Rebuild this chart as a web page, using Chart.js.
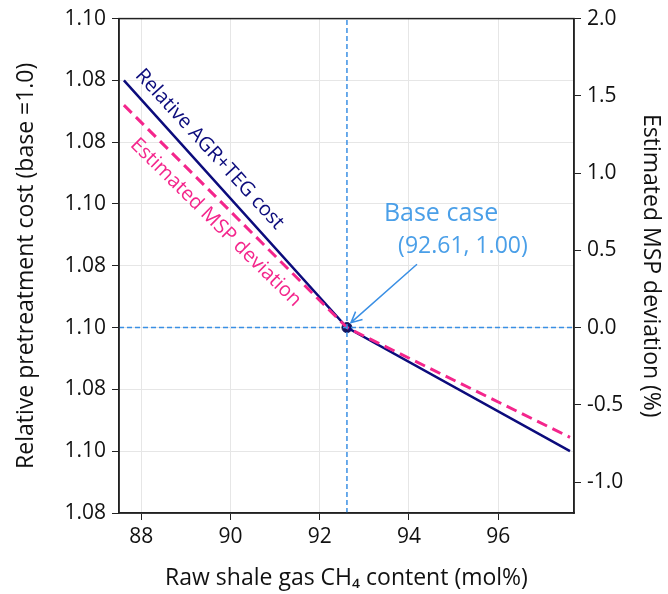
<!DOCTYPE html>
<html>
<head>
<meta charset="utf-8">
<script src="https://cdn.jsdelivr.net/npm/chart.js@4.4.1/dist/chart.umd.min.js"></script>
<style>
  html, body { margin: 0; padding: 0; background: #fff; }
  #chart { display: block; }
</style>
</head>
<body>
<canvas id="chart" width="668" height="594"></canvas>
<script>
// raw shale gas CH4 content (mol%) for the three evaluated cases
const ch4Content = [87.61, 92.61, 97.61]
// relative AGR+TEG cost (left axis)
const agrTegCost = [1.08, 1.00, 0.96]
// estimated MSP deviation in % (right axis)
const mspDeviation = [1.44, 0.00, -0.71]
const baseCase = { x: 92.61, y: 1.00 }

const xTicks = [88, 90, 92, 94, 96]
const leftTicks = [0.94, 0.96, 0.98, 1.00, 1.02, 1.04, 1.06, 1.08, 1.10]
// labels as printed on the original figure (bottom to top)
const leftTickLabels = ['1.08', '1.10', '1.08', '1.10', '1.08', '1.10', '1.08', '1.08', '1.10']
const rightTicks = [-1.0, -0.5, 0.0, 0.5, 1.0, 1.5, 2.0]

const navy = '#0c0c7c'
const pink = '#f4268c'
const blue = '#3a8fe4'
const fontFamily = "'Open Sans', sans-serif"

Chart.defaults.font.family = fontFamily
Chart.defaults.color = '#111'

const toXY = (ys) => ch4Content.map((x, i) => ({ x: x, y: ys[i] }))

// text notes placed in data units
const notes = [
  { text: 'Relative AGR+TEG cost', x: 89.53, y: 1.0577, axis: 'y', angle: 47.5, color: navy, size: 20 },
  { text: 'Estimated MSP deviation', x: 89.67, y: 0.68, axis: 'y2', angle: 44.5, color: pink, size: 20 },
  { text: 'Base case', x: 94.72, y: 1.0367, axis: 'y', angle: 0, color: '#4a9fe8', size: 25 },
  { text: '(92.61, 1.00)', x: 95.21, y: 1.0262, axis: 'y', angle: 0, color: '#4a9fe8', size: 23 }
]
const arrow = { from: { x: 94.18, y: 1.0205 }, to: { x: 92.70, y: 1.0016 } }

const decorations = {
  id: 'decorations',
  afterDatasetsDraw(chart) {
    const { ctx, chartArea, scales } = chart
    ctx.save()
    // frame
    ctx.strokeStyle = '#222'
    ctx.lineWidth = 1.5
    ctx.strokeRect(chartArea.left, chartArea.top, chartArea.right - chartArea.left, chartArea.bottom - chartArea.top)

    // arrow
    const x1 = scales.x.getPixelForValue(arrow.from.x)
    const y1 = scales.y.getPixelForValue(arrow.from.y)
    const x2 = scales.x.getPixelForValue(arrow.to.x)
    const y2 = scales.y.getPixelForValue(arrow.to.y)
    ctx.strokeStyle = blue
    ctx.lineWidth = 1.5
    ctx.beginPath()
    ctx.moveTo(x1, y1)
    ctx.lineTo(x2, y2)
    const a = Math.atan2(y2 - y1, x2 - x1)
    const head = 12
    ctx.moveTo(x2 - head * Math.cos(a - 0.45), y2 - head * Math.sin(a - 0.45))
    ctx.lineTo(x2, y2)
    ctx.lineTo(x2 - head * Math.cos(a + 0.45), y2 - head * Math.sin(a + 0.45))
    ctx.stroke()

    // texts
    notes.forEach((n) => {
      const px = scales.x.getPixelForValue(n.x)
      const py = scales[n.axis].getPixelForValue(n.y)
      ctx.save()
      ctx.translate(px, py)
      ctx.rotate((n.angle * Math.PI) / 180)
      ctx.fillStyle = n.color
      ctx.font = n.size + 'px ' + fontFamily
      ctx.textAlign = 'center'
      ctx.textBaseline = 'middle'
      ctx.fillText(n.text, 0, 0)
      ctx.restore()
    })
    ctx.restore()
  }
}

const chart = new Chart(document.getElementById('chart'), {
  type: 'line',
  data: {
    datasets: [
      {
        label: 'crosshair-h',
        data: [{ x: 87.5, y: baseCase.y }, { x: 97.7, y: baseCase.y }],
        borderColor: blue,
        borderWidth: 1.5,
        borderDash: [5, 3],
        pointRadius: 0,
        yAxisID: 'y'
      },
      {
        label: 'crosshair-v',
        data: [{ x: baseCase.x, y: 0.94 }, { x: baseCase.x, y: 1.10 }],
        borderColor: blue,
        borderWidth: 1.5,
        borderDash: [5, 3],
        pointRadius: 0,
        yAxisID: 'y'
      },
      {
        label: 'Estimated MSP deviation',
        data: toXY(mspDeviation),
        borderColor: pink,
        borderWidth: 3,
        borderDash: [11, 6],
        pointRadius: 0,
        yAxisID: 'y2'
      },
      {
        label: 'Relative AGR+TEG cost',
        data: toXY(agrTegCost),
        borderColor: navy,
        borderWidth: 2.5,
        pointRadius: 0,
        yAxisID: 'y'
      },
      {
        label: 'Base case',
        data: [baseCase],
        borderColor: '#14145e',
        backgroundColor: '#14145e',
        showLine: false,
        pointRadius: 5,
        yAxisID: 'y'
      }
    ]
  },
  options: {
    responsive: false,
    animation: false,
    devicePixelRatio: 1,
    layout: { padding: { top: 18, left: 0, right: 0, bottom: 0 } },
    plugins: {
      legend: { display: false },
      tooltip: { enabled: false }
    },
    scales: {
      x: {
        type: 'linear',
        min: 87.5,
        max: 97.7,
        afterBuildTicks: (s) => { s.ticks = xTicks.map((v) => ({ value: v })) },
        afterFit: (s) => { s.height = 81 },
        grid: { color: '#e6e6e6', tickColor: '#222', tickLength: 7 },
        border: { display: true, color: '#222', width: 1.5 },
        ticks: { font: { size: 21 }, padding: 4, color: '#111', maxRotation: 0 },
        title: {
          display: true,
          text: 'Raw shale gas CH\u2084 content (mol%)',
          font: { size: 23 },
          color: '#111',
          padding: { top: 0, bottom: 2 }
        }
      },
      y: {
        type: 'linear',
        position: 'left',
        min: 0.94,
        max: 1.10,
        afterBuildTicks: (s) => { s.ticks = leftTicks.map((v) => ({ value: v })) },
        afterFit: (s) => { s.width = 119 },
        grid: { color: '#e6e6e6', tickColor: '#222', tickLength: 7 },
        border: { display: true, color: '#222', width: 1.5 },
        ticks: {
          font: { size: 21 },
          padding: 6,
          color: '#111',
          callback: (v, i) => leftTickLabels[i]
        },
        title: {
          display: true,
          text: 'Relative pretreatment cost (base =1.0)',
          font: { size: 23 },
          color: '#111',
          padding: { top: 13, bottom: 0 }
        }
      },
      y2: {
        type: 'linear',
        position: 'right',
        min: -1.2,
        max: 2.0,
        afterBuildTicks: (s) => { s.ticks = rightTicks.map((v) => ({ value: v })) },
        afterFit: (s) => { s.width = 94 },
        grid: { drawOnChartArea: false, tickColor: '#222', tickLength: 7 },
        border: { display: true, color: '#222', width: 1.5 },
        ticks: {
          font: { size: 21 },
          padding: 6,
          color: '#111',
          callback: (v) => v.toFixed(1)
        },
        title: {
          display: true,
          text: 'Estimated MSP deviation (%)',
          font: { size: 23 },
          color: '#111',
          padding: { top: 4, bottom: 0 }
        }
      }
    }
  },
  plugins: [decorations]
})
</script>
</body>
</html>
